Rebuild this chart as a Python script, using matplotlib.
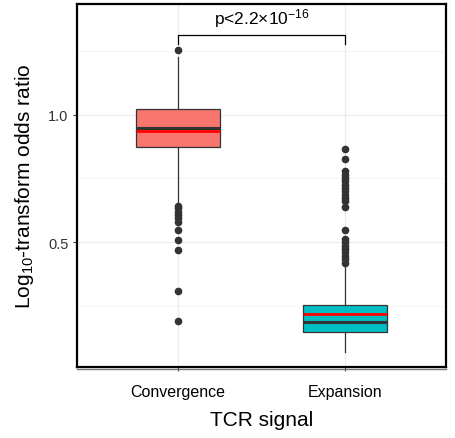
import matplotlib
matplotlib.use("Agg")
import matplotlib.pyplot as plt
from matplotlib.lines import Line2D

plt.rcParams['font.family'] = ['Liberation Sans', 'DejaVu Sans']
plt.rcParams['mathtext.fontset'] = 'custom'
plt.rcParams['mathtext.rm'] = 'Liberation Sans'
plt.rcParams['mathtext.it'] = 'Liberation Sans:italic'
plt.rcParams['mathtext.bf'] = 'Liberation Sans:bold'

# ---- data ----
categories = ["Convergence", "Expansion"]
q1 = [0.873, 0.146]
median = [0.948, 0.187]
q3 = [1.024, 0.253]
mean = [0.936, 0.218]
whisker_low = [0.648, 0.067]
whisker_high = [1.228, 0.416]
outliers_conv = [1.254, 0.640, 0.633, 0.617, 0.606, 0.593, 0.580, 0.546, 0.507, 0.470, 0.307, 0.190]
outliers_exp = [0.865, 0.826, 0.778, 0.764, 0.751, 0.739, 0.725, 0.712, 0.699, 0.686, 0.673,
                0.660, 0.636, 0.548, 0.511, 0.499, 0.486, 0.473, 0.460, 0.447, 0.433, 0.418]
fills = ["#F8766D", "#00BFC4"]
p_label = r"p<2.2$\times$10$^{-16}$"
y_ticks = [0.5, 1.0]
y_minor = [0.25, 0.75, 1.25]

fig = plt.figure(figsize=(4.55, 4.39), dpi=100)
ax = fig.add_axes([77/455, 1 - 368/439, (446-77)/455, (368-5)/439])

positions = [1, 2]
stats = []
for i, name in enumerate(categories):
    stats.append(dict(label=name, q1=q1[i], med=median[i], q3=q3[i],
                      whislo=whisker_low[i], whishi=whisker_high[i],
                      fliers=[outliers_conv, outliers_exp][i], mean=mean[i]))

edge = "#333333"
bp = ax.bxp(stats, positions=positions, widths=0.5, patch_artist=True,
            showcaps=False, showfliers=True, showmeans=False,
            boxprops=dict(edgecolor=edge, linewidth=0.9),
            whiskerprops=dict(color=edge, linewidth=0.9),
            medianprops=dict(color=edge, linewidth=2.2),
            flierprops=dict(marker='o', markerfacecolor=edge, markeredgecolor=edge,
                            markersize=4.5, linestyle='none'),
            zorder=3)
for patch, c in zip(bp['boxes'], fills):
    patch.set_facecolor(c)

# mean lines (red)
for i, p in enumerate(positions):
    ax.plot([p - 0.25, p + 0.25], [mean[i], mean[i]], color="#FF0000", lw=2.0, zorder=4,
            solid_capstyle='butt')

ax.set_xlim(0.4, 2.6)
ax.set_ylim(0.009, 1.435)
ax.set_xticks(positions)
ax.set_xticklabels(categories)
ax.set_yticks(y_ticks)
ax.set_yticklabels(["0.5", "1.0"])
ax.set_yticks(y_minor, minor=True)
ax.tick_params(axis='y', which='minor', length=0)

ax.grid(True, which='major', color="#EBEBEB", lw=0.9, zorder=0)
ax.grid(True, which='minor', axis='y', color="#F2F2F2", lw=0.6, zorder=0)
ax.set_axisbelow(True)

for s in ax.spines.values():
    s.set_color("black")
    s.set_linewidth(1.6)

ax.tick_params(axis='both', which='major', colors="#333333", labelcolor="#333333",
               labelsize=10.5, length=3, width=0.8, pad=3)
ax.tick_params(axis='x', pad=9, labelsize=11.5, labelcolor="black")

# gray axis line under bottom border
ax.add_line(Line2D([0, 1], [-0.006, -0.006], transform=ax.transAxes, color="#777777",
                   lw=1.0, clip_on=False))

ax.set_xlabel("TCR signal", fontsize=15, labelpad=8)
ax.set_ylabel(r"Log$_{10}$-transform odds ratio", fontsize=15, labelpad=9)

# significance bracket
yb, yt = 1.276, 1.313
ax.plot([1, 1, 2, 2], [yb, yt, yt, yb], color="black", lw=0.9, zorder=5)
ax.text(1.5, yt + 0.025, p_label, ha='center', va='bottom', fontsize=12.5)

fig.savefig("out.png", dpi=100)
